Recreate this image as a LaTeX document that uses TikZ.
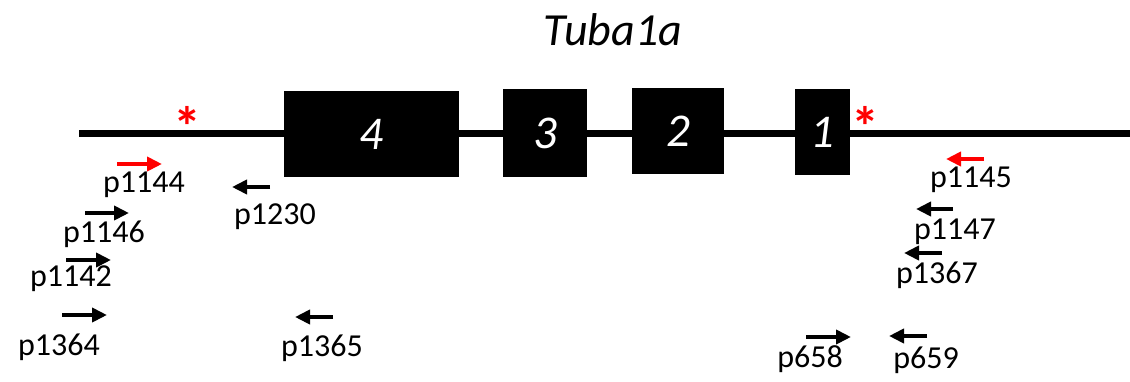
\documentclass[tikz,border=0pt]{standalone}
\usepackage{fontspec}
\setmainfont{Carlito}
\usetikzlibrary{arrows.meta}
\begin{document}
\begin{tikzpicture}[x=1pt,y=-1pt,
  exon/.style={fill=black, draw=none, inner sep=0pt, text=white, font=\fontsize{47}{50}\selectfont\itshape},
  lbl/.style={inner sep=0pt, font=\fontsize{32}{36}\selectfont},
  primer/.style={line width=4pt, -{Triangle[length=15pt,width=14pt]}},
  redprimer/.style={primer, draw=red},
  star/.style={inner sep=0pt, anchor=north, text=red, font=\fontsize{56}{58}\selectfont\bfseries},
  title/.style={inner sep=0pt, font=\fontsize{46}{50}\selectfont\itshape}
]
\useasboundingbox (0,0) rectangle (1130,381);
% title
\node[title] (title) at (613,30) {Tuba1a};
% gene line
\coordinate (L) at (79,133);
\coordinate (R) at (1130,133);
\draw[line width=7pt] (L) -- (R);
% exons
\node[exon, minimum width=175pt, minimum height=86pt] (e4) at (371.5,134) {4};
\node[exon, minimum width=84pt, minimum height=88pt] (e3) at (545,133) {3};
\node[exon, minimum width=92pt, minimum height=86pt] (e2) at (678,131) {2};
\node[exon, minimum width=55pt, minimum height=86pt] (e1) at (822.5,132) {1};
% asterisks
\node[star] (s1) at (187,106) {*};
\node[star] (s2) at (865,106) {*};
% primers left
\coordinate (a1144) at (117,164); \coordinate (b1144) at (162,164);
\draw[redprimer] (a1144) -- (b1144);
\node[lbl] (l1144) at (144,185) {p1144};
\coordinate (a1230) at (270,187); \coordinate (b1230) at (232,187);
\draw[primer] (a1230) -- (b1230);
\node[lbl] (l1230) at (275,217) {p1230};
\coordinate (a1146) at (85,213); \coordinate (b1146) at (129,213);
\draw[primer] (a1146) -- (b1146);
\node[lbl] (l1146) at (104,234) {p1146};
\coordinate (a1142) at (66,260); \coordinate (b1142) at (111,260);
\draw[primer] (a1142) -- (b1142);
\node[lbl] (l1142) at (71,279) {p1142};
\coordinate (a1364) at (62,315); \coordinate (b1364) at (107,315);
\draw[primer] (a1364) -- (b1364);
\node[lbl] (l1364) at (59,347) {p1364};
\coordinate (a1365) at (333,317); \coordinate (b1365) at (295,317);
\draw[primer] (a1365) -- (b1365);
\node[lbl] (l1365) at (322,348) {p1365};
% primers right
\coordinate (a1145) at (984,159); \coordinate (b1145) at (946,159);
\draw[redprimer] (a1145) -- (b1145);
\node[lbl] (l1145) at (971,180) {p1145};
\coordinate (a1147) at (953,209); \coordinate (b1147) at (916,209);
\draw[primer] (a1147) -- (b1147);
\node[lbl] (l1147) at (955,232) {p1147};
\coordinate (a1367) at (942,253); \coordinate (b1367) at (904,253);
\draw[primer] (a1367) -- (b1367);
\node[lbl] (l1367) at (937,275) {p1367};
\coordinate (a658) at (806,337); \coordinate (b658) at (851,337);
\draw[primer] (a658) -- (b658);
\node[lbl] (l658) at (810,359) {p658};
\coordinate (a659) at (927,336); \coordinate (b659) at (889,336);
\draw[primer] (a659) -- (b659);
\node[lbl] (l659) at (926,360) {p659};
\end{tikzpicture}
\end{document}
